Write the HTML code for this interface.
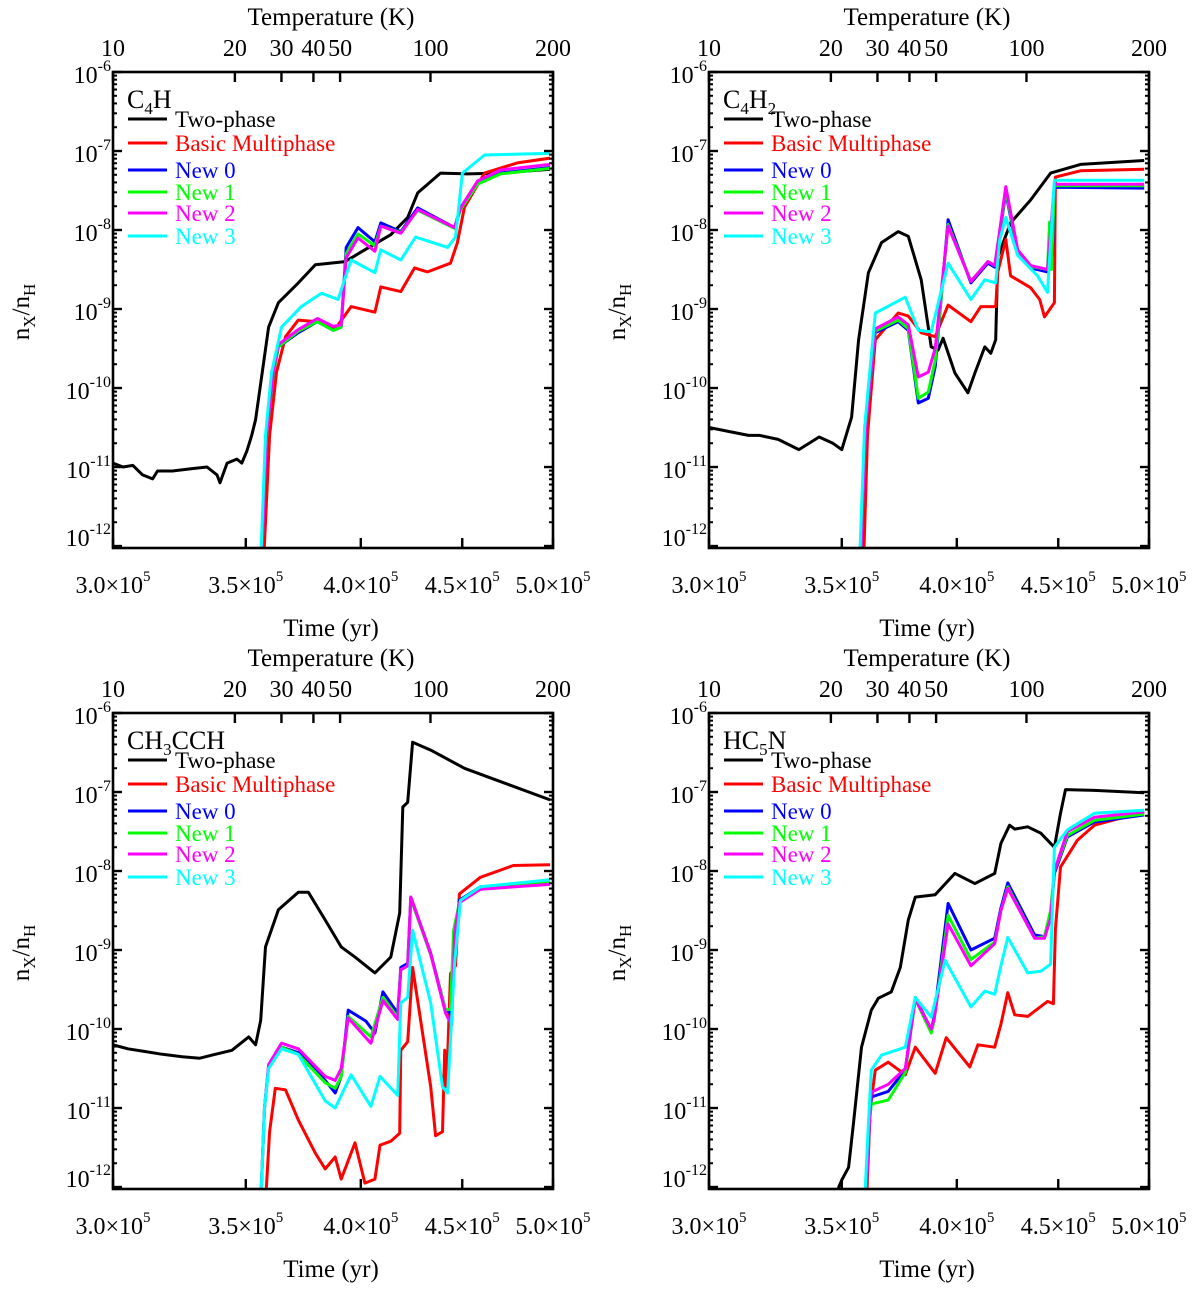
<!DOCTYPE html>
<html><head><meta charset="utf-8"><title>Abundance panels</title>
<style>
html,body{margin:0;padding:0;background:#fff;}
svg{display:block;font-family:"Liberation Serif","DejaVu Serif",serif;}
</style></head>
<body>
<svg id="fig" width="1200" height="1290" viewBox="0 0 1200 1290" xmlns="http://www.w3.org/2000/svg"></svg>
<script>
// ---- data: [time (1e5 yr), log10 abundance] ----
const timeTicks = [3.0, 3.5, 4.0, 4.5, 5.0];
const timeTickLabels = ["3.0", "3.5", "4.0", "4.5", "5.0"];
const tempTicks = ["10", "20", "30", "40", "50", "100", "200"];
const tempTickTimes = [3.0, 3.456, 3.648, 3.786, 3.905, 4.337, 5.0];
const yDecades = [-6, -7, -8, -9, -10, -11, -12];
const seriesNames = ["Two-phase", "Basic Multiphase", "New 0", "New 1", "New 2", "New 3"];
const seriesColors = ["#000000", "#ff0000", "#0000ff", "#00ff00", "#ff00ff", "#00ffff"];

// Panel 1: C4H
const c4h_two = [[3.000,-10.95],[3.035,-11.0],[3.070,-10.98],[3.105,-11.1],[3.141,-11.15],[3.159,-11.05],[3.214,-11.05],[3.289,-11.02],[3.346,-11.0],[3.385,-11.1],[3.397,-11.2],[3.425,-10.95],[3.464,-10.9],[3.484,-10.95],[3.504,-10.8],[3.524,-10.6],[3.540,-10.4],[3.594,-9.23],[3.635,-8.92],[3.720,-8.67],[3.794,-8.44],[3.928,-8.40],[4.001,-8.28],[4.142,-8.06],[4.224,-7.84],[4.273,-7.53],[4.388,-7.28],[4.528,-7.29],[4.704,-7.28],[4.983,-7.23]];
const c4h_basic = [[3.573,-12.2],[3.598,-10.6],[3.627,-9.8],[3.665,-9.35],[3.720,-9.14],[3.803,-9.16],[3.886,-9.24],[3.955,-8.97],[4.066,-9.04],[4.094,-8.72],[4.190,-8.78],[4.258,-8.48],[4.322,-8.53],[4.439,-8.42],[4.475,-8.16],[4.512,-7.71],[4.618,-7.28],[4.797,-7.15],[4.983,-7.09]];
const c4h_new0 = [[3.565,-12.2],[3.585,-10.6],[3.614,-9.81],[3.635,-9.48],[3.720,-9.30],[3.803,-9.16],[3.874,-9.27],[3.910,-9.23],[3.933,-8.22],[3.987,-7.97],[4.066,-8.15],[4.094,-7.91],[4.190,-8.02],[4.273,-7.72],[4.460,-7.97],[4.491,-7.72],[4.581,-7.40],[4.704,-7.28],[4.983,-7.21]];
const c4h_new1 = [[3.565,-12.2],[3.585,-10.6],[3.614,-9.81],[3.635,-9.48],[3.720,-9.28],[3.803,-9.16],[3.874,-9.27],[3.910,-9.23],[3.933,-8.3],[3.987,-8.05],[4.066,-8.2],[4.094,-7.95],[4.190,-8.03],[4.273,-7.75],[4.460,-7.98],[4.491,-7.74],[4.581,-7.42],[4.704,-7.29],[4.983,-7.22]];
const c4h_new2 = [[3.565,-12.2],[3.585,-10.6],[3.614,-9.78],[3.635,-9.45],[3.720,-9.26],[3.803,-9.12],[3.874,-9.22],[3.910,-9.2],[3.933,-8.35],[3.987,-8.1],[4.066,-8.27],[4.094,-7.95],[4.190,-8.04],[4.273,-7.74],[4.460,-7.97],[4.491,-7.72],[4.581,-7.38],[4.704,-7.24],[4.983,-7.17]];
const c4h_new3 = [[3.561,-12.2],[3.581,-10.6],[3.606,-9.81],[3.648,-9.23],[3.733,-8.97],[3.821,-8.80],[3.896,-8.88],[3.955,-8.38],[4.066,-8.54],[4.094,-8.25],[4.190,-8.38],[4.263,-8.09],[4.424,-8.22],[4.465,-8.09],[4.501,-7.28],[4.618,-7.05],[4.983,-7.03]];

// Panel 2: C4H2
const c4h2_two = [[3.000,-10.5],[3.070,-10.55],[3.141,-10.6],[3.181,-10.6],[3.251,-10.65],[3.330,-10.78],[3.409,-10.62],[3.464,-10.7],[3.500,-10.78],[3.540,-10.37],[3.569,-9.39],[3.610,-8.54],[3.665,-8.16],[3.737,-8.02],[3.781,-8.08],[3.838,-8.63],[3.883,-9.48],[3.914,-9.52],[3.937,-9.37],[3.991,-9.81],[4.052,-10.06],[4.085,-9.81],[4.132,-9.48],[4.161,-9.56],[4.185,-9.39],[4.195,-8.34],[4.258,-7.91],[4.358,-7.62],[4.460,-7.28],[4.618,-7.17],[4.972,-7.12]];
const c4h2_basic = [[3.590,-12.2],[3.606,-10.6],[3.639,-9.39],[3.737,-9.05],[3.781,-9.09],[3.838,-9.30],[3.901,-9.35],[3.960,-8.95],[4.066,-9.16],[4.113,-8.97],[4.185,-8.97],[4.195,-8.53],[4.234,-8.12],[4.258,-8.58],[4.358,-8.73],[4.404,-8.88],[4.429,-9.10],[4.480,-8.92],[4.485,-7.33],[4.618,-7.25],[4.972,-7.23]];
const c4h2_new0 = [[3.577,-12.2],[3.598,-10.5],[3.639,-9.30],[3.737,-9.16],[3.781,-9.27],[3.825,-10.19],[3.870,-10.13],[3.901,-9.73],[3.960,-7.87],[4.066,-8.67],[4.147,-8.42],[4.180,-8.47],[4.205,-8.04],[4.234,-7.53],[4.293,-8.29],[4.358,-8.48],[4.444,-8.53],[4.470,-8.31],[4.480,-7.46],[4.972,-7.47]];
const c4h2_new1 = [[3.577,-12.2],[3.598,-10.5],[3.639,-9.28],[3.737,-9.14],[3.781,-9.25],[3.825,-10.13],[3.870,-10.05],[3.901,-9.65],[3.960,-7.93],[4.066,-8.65],[4.147,-8.4],[4.180,-8.45],[4.205,-8.02],[4.234,-7.5],[4.293,-8.27],[4.358,-8.46],[4.444,-8.5],[4.455,-7.9],[4.465,-8.5],[4.480,-7.44],[4.972,-7.44]];
const c4h2_new2 = [[3.577,-12.2],[3.598,-10.5],[3.639,-9.25],[3.737,-9.1],[3.781,-9.2],[3.825,-9.86],[3.870,-9.8],[3.901,-9.5],[3.960,-7.95],[4.066,-8.65],[4.147,-8.4],[4.180,-8.45],[4.205,-8.0],[4.234,-7.45],[4.293,-8.25],[4.358,-8.45],[4.444,-8.5],[4.480,-7.42],[4.972,-7.42]];
const c4h2_new3 = [[3.573,-12.2],[3.594,-10.5],[3.639,-9.05],[3.768,-8.85],[3.825,-9.27],[3.883,-9.29],[3.960,-8.42],[4.066,-8.88],[4.132,-8.63],[4.185,-8.67],[4.205,-8.12],[4.234,-7.84],[4.293,-8.32],[4.393,-8.58],[4.444,-8.79],[4.480,-7.37],[4.972,-7.37]];

// Panel 3: CH3CCH
const ch3cch_two = [[3.000,-10.2],[3.052,-10.25],[3.105,-10.28],[3.177,-10.32],[3.251,-10.35],[3.318,-10.37],[3.366,-10.33],[3.444,-10.27],[3.512,-10.1],[3.540,-10.2],[3.561,-9.89],[3.581,-8.96],[3.635,-8.49],[3.720,-8.27],[3.764,-8.27],[3.838,-8.62],[3.910,-8.96],[3.973,-9.09],[4.066,-9.29],[4.142,-9.09],[4.185,-8.53],[4.200,-7.19],[4.224,-7.13],[4.248,-6.37],[4.338,-6.47],[4.512,-6.70],[4.983,-7.10]];
const ch3cch_basic = [[3.581,-12.2],[3.598,-11.3],[3.622,-10.75],[3.665,-10.77],[3.720,-11.15],[3.794,-11.57],[3.838,-11.77],[3.883,-11.62],[3.910,-11.9],[3.973,-11.44],[4.019,-11.95],[4.066,-11.9],[4.090,-11.47],[4.142,-11.42],[4.185,-11.32],[4.190,-10.27],[4.224,-10.16],[4.248,-9.22],[4.338,-10.73],[4.363,-11.35],[4.398,-11.3],[4.409,-10.27],[4.419,-10.73],[4.439,-9.3],[4.465,-9.2],[4.485,-8.29],[4.596,-8.08],[4.775,-7.93],[4.983,-7.92]];
const ch3cch_new0 = [[3.561,-12.2],[3.577,-11.0],[3.594,-10.48],[3.648,-10.23],[3.720,-10.3],[3.838,-10.65],[3.883,-10.81],[3.910,-10.6],[3.942,-9.76],[4.024,-9.9],[4.066,-10.05],[4.104,-9.53],[4.175,-9.80],[4.190,-9.22],[4.224,-9.17],[4.239,-8.33],[4.338,-9.04],[4.414,-9.76],[4.439,-9.8],[4.455,-9.0],[4.485,-8.37],[4.596,-8.2],[4.983,-8.15]];
const ch3cch_new1 = [[3.561,-12.2],[3.577,-11.0],[3.594,-10.48],[3.648,-10.23],[3.720,-10.32],[3.838,-10.68],[3.883,-10.75],[3.910,-10.6],[3.942,-9.84],[4.047,-10.1],[4.104,-9.6],[4.175,-9.85],[4.190,-9.25],[4.224,-9.2],[4.239,-8.35],[4.338,-9.06],[4.414,-9.76],[4.439,-9.75],[4.455,-8.75],[4.485,-8.4],[4.596,-8.22],[4.983,-8.13]];
const ch3cch_new2 = [[3.561,-12.2],[3.577,-11.0],[3.594,-10.45],[3.648,-10.18],[3.720,-10.25],[3.838,-10.6],[3.883,-10.65],[3.910,-10.5],[3.942,-9.86],[4.047,-10.18],[4.104,-9.64],[4.175,-9.88],[4.190,-9.25],[4.224,-9.2],[4.239,-8.33],[4.338,-9.05],[4.414,-9.8],[4.445,-9.95],[4.460,-8.8],[4.485,-8.4],[4.596,-8.23],[4.983,-8.17]];
const ch3cch_new3 = [[3.561,-12.2],[3.577,-11.0],[3.594,-10.5],[3.648,-10.25],[3.720,-10.32],[3.838,-10.91],[3.883,-11.0],[3.955,-10.58],[4.047,-10.98],[4.090,-10.6],[4.175,-10.84],[4.190,-9.67],[4.224,-9.6],[4.248,-8.75],[4.338,-9.67],[4.398,-10.73],[4.424,-10.81],[4.460,-9.17],[4.491,-8.37],[4.596,-8.2],[4.983,-8.11]];

// Panel 4: HC5N
const hc5n_two = [[3.000,-12.3],[3.464,-12.3],[3.488,-12.0],[3.500,-11.91],[3.528,-11.75],[3.548,-11.19],[3.581,-10.23],[3.622,-9.76],[3.652,-9.61],[3.707,-9.53],[3.746,-9.22],[3.781,-8.62],[3.812,-8.33],[3.901,-8.30],[3.991,-8.03],[4.085,-8.16],[4.180,-8.03],[4.210,-7.65],[4.253,-7.42],[4.278,-7.47],[4.343,-7.44],[4.409,-7.52],[4.480,-7.70],[4.512,-7.27],[4.538,-6.97],[4.693,-6.98],[4.972,-7.01]];
const hc5n_basic = [[3.602,-12.2],[3.618,-11.0],[3.639,-10.52],[3.694,-10.42],[3.768,-10.58],[3.812,-10.23],[3.901,-10.56],[3.951,-10.11],[4.061,-10.48],[4.099,-10.2],[4.180,-10.23],[4.210,-9.94],[4.244,-9.54],[4.278,-9.82],[4.343,-9.84],[4.444,-9.65],[4.475,-9.68],[4.485,-8.74],[4.512,-7.95],[4.601,-7.61],[4.693,-7.42],[4.972,-7.25]];
const hc5n_new0 = [[3.598,-12.2],[3.614,-11.2],[3.622,-10.86],[3.694,-10.79],[3.768,-10.52],[3.812,-9.60],[3.883,-10.01],[3.896,-9.85],[3.960,-8.41],[4.066,-9.0],[4.180,-8.85],[4.210,-8.47],[4.244,-8.15],[4.378,-8.81],[4.429,-8.83],[4.460,-8.58],[4.480,-8.03],[4.548,-7.57],[4.693,-7.38],[4.972,-7.29]];
const hc5n_new1 = [[3.598,-12.2],[3.614,-11.2],[3.622,-10.95],[3.694,-10.9],[3.768,-10.55],[3.812,-9.62],[3.883,-10.05],[3.896,-9.9],[3.960,-8.56],[4.066,-9.12],[4.180,-8.9],[4.210,-8.5],[4.244,-8.2],[4.378,-8.85],[4.429,-8.83],[4.460,-8.5],[4.480,-8.0],[4.548,-7.55],[4.693,-7.36],[4.972,-7.28]];
const hc5n_new2 = [[3.598,-12.2],[3.614,-11.2],[3.622,-10.8],[3.694,-10.7],[3.768,-10.5],[3.812,-9.62],[3.883,-10.0],[3.896,-9.88],[3.960,-8.67],[4.066,-9.2],[4.180,-8.92],[4.210,-8.5],[4.244,-8.22],[4.378,-8.85],[4.429,-8.85],[4.460,-8.6],[4.480,-8.0],[4.548,-7.5],[4.693,-7.32],[4.972,-7.25]];
const hc5n_new3 = [[3.594,-12.2],[3.610,-11.2],[3.622,-10.52],[3.665,-10.33],[3.768,-10.23],[3.812,-9.60],[3.883,-9.85],[3.946,-9.13],[4.066,-9.72],[4.132,-9.52],[4.180,-9.56],[4.210,-9.2],[4.244,-8.84],[4.343,-9.29],[4.409,-9.27],[4.460,-9.18],[4.480,-7.70],[4.548,-7.48],[4.693,-7.27],[4.972,-7.23]];

const panels = [
  {name:"c4h", main:"C", sub:"4", tail:"H", series:[c4h_two,c4h_basic,c4h_new0,c4h_new1,c4h_new2,c4h_new3], ox:0, oy:0},
  {name:"c4h2", main:"C", sub:"4", tail:"H", sub2:"2", series:[c4h2_two,c4h2_basic,c4h2_new0,c4h2_new1,c4h2_new2,c4h2_new3], ox:596, oy:0},
  {name:"ch3cch", main:"CH", sub:"3", tail:"CCH", series:[ch3cch_two,ch3cch_basic,ch3cch_new0,ch3cch_new1,ch3cch_new2,ch3cch_new3], ox:0, oy:641},
  {name:"hc5n", main:"HC", sub:"5", tail:"N", series:[hc5n_two,hc5n_basic,hc5n_new0,hc5n_new1,hc5n_new2,hc5n_new3], ox:596, oy:641}
];

// ---- drawing ----
const NS = "http://www.w3.org/2000/svg";
const svg = document.getElementById("fig");
const L0 = 113, T0 = 72, W = 440, H = 476;
const YTOP = -6, YBOT = -12.025;
const XMIN = Math.log10(3.0), XMAX = Math.log10(5.0);
function mk(tag, attrs, parent){ const e=document.createElementNS(NS,tag); for(const k in attrs) e.setAttribute(k,attrs[k]); (parent||svg).appendChild(e); return e; }
function xScale(t, L){ return L + (Math.log10(t)-XMIN)/(XMAX-XMIN)*W; }
function yScale(v, T){ return T + (YTOP - v)/(YTOP-YBOT)*H; }

panels.forEach(function(p, pi){
  const L = L0 + p.ox, T = T0 + p.oy;
  const g = mk("g", {});
  
  

  const defs = mk("defs", {}, g);
  const cp = mk("clipPath", {id:"clip"+pi}, defs);
  mk("rect", {x:L, y:T, width:W, height:H}, cp);

  const dg = mk("g", {"clip-path":"url(#clip"+pi+")"}, g);
  
  
  p.series.forEach(function(s, si){
    const d = s.map(function(pt, i){ return (i?"L":"M") + xScale(pt[0],L).toFixed(1) + "," + yScale(pt[1],T).toFixed(1); }).join(" ");
    const path = mk("path", {d:d, fill:"none", stroke:seriesColors[si], "stroke-width":3, "stroke-linejoin":"round"}, dg);
    
    
  });

  const fr = mk("rect", {x:L, y:T, width:W, height:H, fill:"none", stroke:"#000", "stroke-width":2.6}, g);
  
  

  // y ticks
  const yax = mk("g", {}, g);
  
  
  yDecades.forEach(function(dv){
    const y = yScale(dv, T);
    mk("line", {x1:L, x2:L+9, y1:y, y2:y, stroke:"#000", "stroke-width":2.4}, yax);
    mk("line", {x1:L+W, x2:L+W-9, y1:y, y2:y, stroke:"#000", "stroke-width":2.4}, yax);
    if (dv > -12) {
      for (let m=2; m<=9; m++){
        const ym = yScale(dv - 1 + Math.log10(m), T);
        mk("line", {x1:L, x2:L+4, y1:ym, y2:ym, stroke:"#000", "stroke-width":2}, yax);
        mk("line", {x1:L+W, x2:L+W-4, y1:ym, y2:ym, stroke:"#000", "stroke-width":2}, yax);
      }
    }
    const by = Math.min(y + 11, T + H - 2);
    const tx = mk("text", {x:L-2, y:by, "font-size":24, "text-anchor":"end"}, yax);
    
    
    tx.innerHTML = '10<tspan font-size="16" dy="-12">' + dv + '</tspan>';
  });

  // bottom x ticks
  const xax = mk("g", {}, g);
  
  
  timeTicks.forEach(function(tv, i){
    const x = xScale(tv, L);
    mk("line", {x1:x, x2:x, y1:T+H, y2:T+H-10, stroke:"#000", "stroke-width":2.4}, xax);
    const tx = mk("text", {x:x, y:T+H+45, "font-size":24, "text-anchor":"middle"}, xax);
    
    
    tx.innerHTML = timeTickLabels[i] + '\u00d710<tspan font-size="15" dy="-12">5</tspan>';
  });
  const xt = mk("text", {x:L+W/2-2, y:T+H+88, "font-size":25, "text-anchor":"middle"}, xax);
  xt.textContent = "Time (yr)";
  
  

  // top temperature axis
  const tax = mk("g", {}, g);
  
  
  tempTicks.forEach(function(lab, i){
    const x = xScale(tempTickTimes[i], L);
    mk("line", {x1:x, x2:x, y1:T, y2:T+10, stroke:"#000", "stroke-width":2.4}, tax);
    const tx = mk("text", {x:x, y:T-16, "font-size":24, "text-anchor":"middle"}, tax);
    tx.textContent = lab;
    
    
  });
  const tt = mk("text", {x:L+W/2-2, y:T-47, "font-size":25, "text-anchor":"middle"}, tax);
  tt.textContent = "Temperature (K)";
  
  

  const yt = mk("text", {"font-size":25, "text-anchor":"middle", transform:"translate("+(L-84)+","+(T+240)+") rotate(-90)"}, g);
  
  
  yt.innerHTML = 'n<tspan font-size="17" dy="6">X</tspan><tspan dy="-6">/n</tspan><tspan font-size="17" dy="6">H</tspan>';

  const sl = mk("text", {x:L+14, y:T+36, "font-size":26}, g);
  
  
  sl.innerHTML = p.main + '<tspan font-size="17" dy="6">' + p.sub + '</tspan><tspan dy="-6">' + p.tail + '</tspan>' + (p.sub2 ? '<tspan font-size="17" dy="6">' + p.sub2 + '</tspan>' : '');

  const lg = mk("g", {}, g);
  
  
  const rowY = [47, 71, 98, 120, 141, 164];
  seriesNames.forEach(function(nm, i){
    const ent = mk("g", {}, lg);
    
    
    const y = T + rowY[i];
    mk("line", {x1:L+15, x2:L+54, y1:y, y2:y, stroke:seriesColors[i], "stroke-width":3}, ent);
    const tx = mk("text", {x:L+62, y:y+8, "font-size":23, fill:seriesColors[i]}, ent);
    tx.textContent = nm;
  });
});
</script>
</body></html>
